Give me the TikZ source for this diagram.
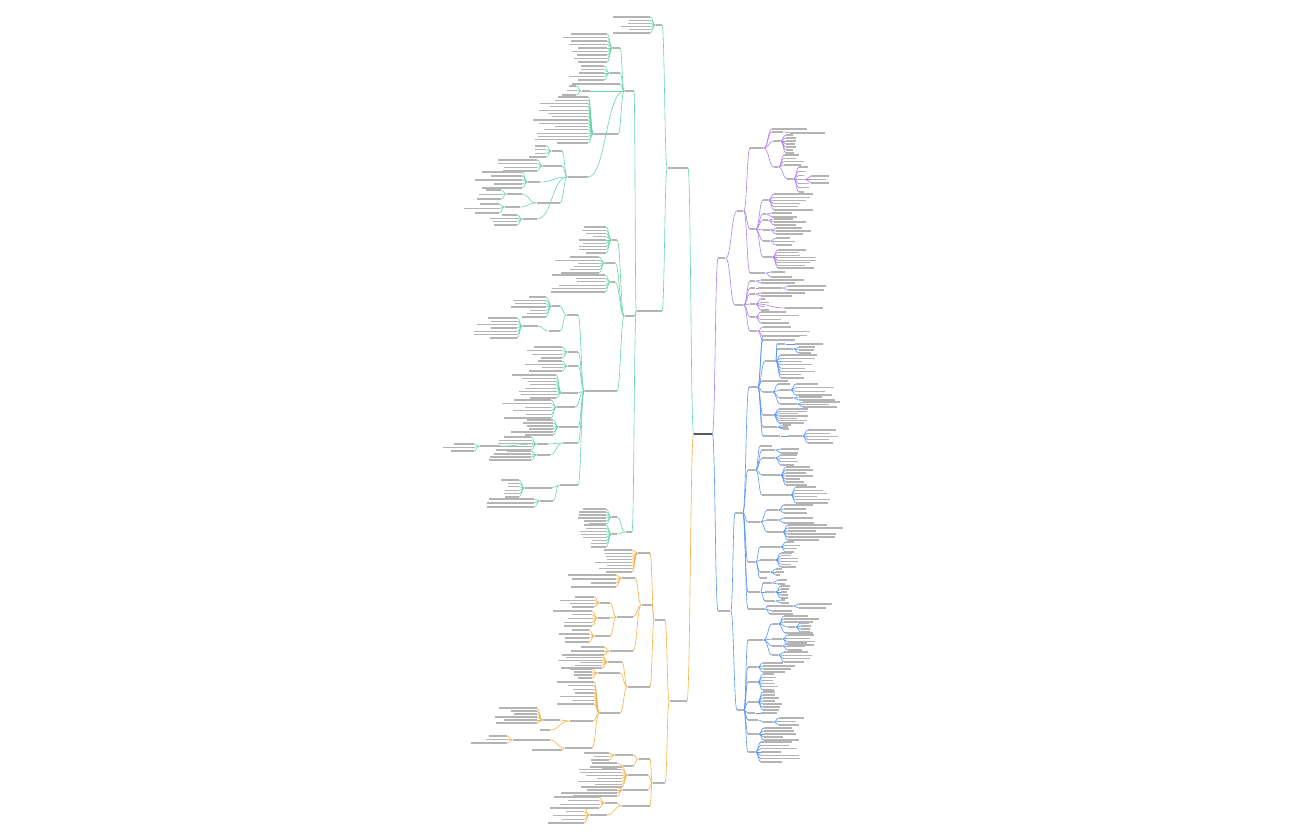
\documentclass[tikz,border=0pt]{standalone}
\usetikzlibrary{calc}
\definecolor{gr}{HTML}{6AD6A8}
\definecolor{og}{HTML}{F6B048}
\definecolor{pu}{HTML}{AD83F2}
\definecolor{bl}{HTML}{5A96F5}
\definecolor{tx}{HTML}{B4B4B4}
\tikzset{
  txt/.style={fill=tx, inner sep=0pt, minimum height=0.6pt},
  hub/.style={fill=black!65, inner sep=0pt, minimum height=1.2pt, minimum width=9pt},
  lnk/.style={line width=0.3pt, to path={let \p1=(\tikztostart), \p2=(\tikztotarget) in
      .. controls ({(\x1+\x2)/2},\y1) and ({(\x1+\x2)/2},\y2) .. (\tikztotarget)}}
}
% branch nodes, left and right of the root
\newcommand\nodeL[6]{\node[txt,anchor=east,minimum width=#5*0.5pt] (#1) at (#3,#4) {};
  \draw[lnk,#6] (#2.west) to (#1.east);}
\newcommand\nodeR[6]{\node[txt,anchor=west,minimum width=#5*0.5pt] (#1) at (#3,#4) {};
  \draw[lnk,#6] (#2.east) to (#1.west);}
% leaf columns
\newcommand\leafL[6]{\path (#1.west) ++(-5,0) coordinate (#1-c);
  \foreach \k in {1,...,#5}{
    \pgfmathsetmacro\yy{#3+(#4-#3)*(\k-1)/max(#5-1,1)}
    \pgfmathsetmacro\ww{#6*(0.45+0.55*rnd)}
    \node[txt,anchor=east,minimum width=\ww*0.5pt] (#1-\k) at (#1-c |- 0,\yy) {};
    \draw[lnk,#2] (#1.west) to (#1-\k.east);}}
\newcommand\leafR[6]{\path (#1.east) ++(5,0) coordinate (#1-c);
  \foreach \k in {1,...,#5}{
    \pgfmathsetmacro\yy{#3+(#4-#3)*(\k-1)/max(#5-1,1)}
    \pgfmathsetmacro\ww{#6*(0.45+0.55*rnd)}
    \node[txt,anchor=west,minimum width=\ww*0.5pt] (#1-\k) at (#1-c |- 0,\yy) {};
    \draw[lnk,#2] (#1.east) to (#1-\k.west);}}
\begin{document}
\begin{tikzpicture}[x=0.5pt,y=-0.5pt]
\pgfmathsetseed{7}
\fill[white] (0,0) rectangle (1296,840);
\useasboundingbox (0,0) rectangle (1296,840);
\node[hub] (root) at (703,434) {};

% green
\nodeL{A}{root}{688}{168}{20}{gr}
\nodeL{A1}{A}{662}{25}{6}{gr}
\leafL{A1}{gr}{17}{33}{6}{40}
\nodeL{B}{A}{662}{311}{25}{gr}
\nodeL{A2}{B}{634}{91}{9}{gr}
\nodeL{a1}{A2}{620}{48}{7}{gr} \leafL{a1}{gr}{34}{62}{9}{45}
\nodeL{a2}{A2}{620}{73}{10}{gr} \leafL{a2}{gr}{66}{80}{5}{45}
\nodeL{a3}{A2}{620}{84}{48}{gr}
\nodeL{a4}{A2}{590}{91}{8}{gr} \leafL{a4}{gr}{86}{95}{3}{15}
\nodeL{a5}{A2}{618}{134}{24}{gr} \leafL{a5}{gr}{97}{143}{15}{55}
\nodeL{a6}{A2}{588}{177}{20}{gr}
\nodeL{a61}{a6}{562}{151}{10}{gr} \leafL{a61}{gr}{146}{157}{4}{18}
\nodeL{a62}{a6}{562}{166}{19}{gr} \leafL{a62}{gr}{160}{171}{4}{40}
\nodeL{a63}{a6}{540}{182}{12}{gr} \leafL{a63}{gr}{172}{188}{5}{58}
\nodeL{a64}{a6}{560}{203}{23}{gr}
\nodeL{a641}{a64}{522}{194}{15}{gr} \leafL{a641}{gr}{190}{199}{3}{25}
\nodeL{a642}{a64}{520}{207}{15}{gr} \leafL{a642}{gr}{204}{213}{3}{35}
\nodeL{a65}{a6}{537}{219}{14}{gr} \leafL{a65}{gr}{215}{225}{4}{28}
\nodeL{Bm}{B}{634}{316}{9}{gr}
\nodeL{b1}{Bm}{617}{240}{5}{gr} \leafL{b1}{gr}{227}{253}{9}{28}
\nodeL{b2}{Bm}{615}{263}{10}{gr} \leafL{b2}{gr}{257}{273}{6}{45}
\nodeL{b3}{Bm}{615}{282}{4}{gr} \leafL{b3}{gr}{275}{292}{6}{60}
\nodeL{b4}{Bm}{617}{391}{32}{gr}
\nodeL{c1}{b4}{578}{315}{11}{gr}
\nodeL{c11}{c1}{560}{306}{8}{gr} \leafL{c11}{gr}{297}{317}{7}{35}
\nodeL{c12}{c1}{560}{331}{11}{gr}
\nodeL{c121}{c12}{538}{326}{15}{gr} \leafL{c121}{gr}{318}{338}{7}{50}
\nodeL{c2}{b4}{578}{352}{10}{gr} \leafL{c2}{gr}{347}{358}{4}{40}
\nodeL{c3}{b4}{578}{366}{10}{gr} \leafL{c3}{gr}{361}{371}{4}{40}
\nodeL{c4}{b4}{578}{393}{16}{gr} \leafL{c4}{gr}{375}{398}{8}{55}
\nodeL{c5}{b4}{575}{407}{18}{gr} \leafL{c5}{gr}{400}{418}{6}{50}
\nodeL{c6}{b4}{578}{427}{19}{gr} \leafL{c6}{gr}{420}{435}{6}{45}
\nodeL{c7}{b4}{578}{443}{15}{gr}
\nodeL{c71}{c7}{548}{444}{11}{gr} \leafL{c71}{gr}{437}{450}{5}{45}
\nodeL{c711}{c71}{500}{446}{20}{gr} \leafL{c711}{gr}{444}{451}{3}{40}
\nodeL{c72}{c7}{550}{455}{13}{gr} \leafL{c72}{gr}{451}{460}{4}{45}
\nodeL{c8}{b4}{578}{485}{18}{gr}
\nodeL{c81}{c8}{552}{488}{27}{gr} \leafL{c81}{gr}{480}{497}{6}{22}
\nodeL{c82}{c8}{553}{501}{13}{gr} \leafL{c82}{gr}{499}{507}{3}{50}
\nodeL{A3}{B}{632}{532}{6}{gr}
\nodeL{d1}{A3}{617}{517}{5}{gr} \leafL{d1}{gr}{509}{524}{6}{35}
\nodeL{d2}{A3}{617}{534}{5}{gr} \leafL{d2}{gr}{525}{547}{8}{30}

% orange
\nodeL{O}{root}{687}{701}{17}{og}
\nodeL{O1}{O}{665}{620}{10}{og}
\nodeL{O1a}{O1}{650}{553}{12}{og} \leafL{O1a}{og}{550}{572}{8}{40}
\nodeL{O1b}{O1}{652}{605}{10}{og}
\nodeL{e1}{O1b}{635}{578}{13}{og} \leafL{e1}{og}{575}{587}{4}{55}
\nodeL{e2}{O1b}{633}{617}{16}{og}
\nodeL{e21}{e2}{610}{603}{10}{og} \leafL{e21}{og}{597}{607}{4}{35}
\nodeL{e22}{e2}{610}{618}{12}{og} \leafL{e22}{og}{611}{626}{5}{40}
\nodeL{e23}{e2}{610}{636}{15}{og} \leafL{e23}{og}{630}{642}{4}{35}
\nodeL{e3}{O1b}{633}{651}{23}{og} \leafL{e3}{og}{647}{655}{3}{40}
\nodeL{O1c}{O1}{650}{687}{22}{og}
\nodeL{f1}{O1c}{622}{662}{14}{og} \leafL{f1}{og}{655}{668}{6}{45}
\nodeL{f2}{O1c}{620}{673}{22}{og} \leafL{f2}{og}{669}{678}{4}{25}
\nodeL{f3}{O1c}{620}{713}{20}{og} \leafL{f3}{og}{682}{704}{7}{40}
\nodeL{f32}{f3}{593}{721}{23}{og}
\nodeL{f321}{f32}{560}{720}{17}{og} \leafL{f321}{og}{708}{723}{6}{42}
\nodeL{f322}{f32}{550}{730}{10}{og}
\nodeL{f33}{f3}{592}{748}{27}{og}
\nodeL{f331}{f33}{550}{740}{37}{og} \leafL{f331}{og}{736}{743}{3}{40}
\nodeL{f332}{f33}{562}{750}{30}{og}
\nodeL{O2}{O}{665}{783}{12}{og}
\nodeL{g1}{O2}{650}{759}{11}{og}
\nodeL{g11}{g1}{633}{755}{18}{og} \leafL{g11}{og}{753}{760}{3}{25}
\nodeL{g12}{g1}{633}{766}{10}{og} \leafL{g12}{og}{763}{768}{2}{25}
\nodeL{g2}{O2}{648}{775}{20}{og} \leafL{g2}{og}{767}{787}{8}{45}
\nodeL{g3}{O2}{648}{790}{25}{og} \leafL{g3}{og}{787}{796}{4}{65}
\nodeL{g4}{O2}{650}{806}{28}{og}
\nodeL{g41}{g4}{617}{803}{12}{og} \leafL{g41}{og}{797}{808}{4}{50}
\nodeL{g42}{g4}{607}{815}{17}{og} \leafL{g42}{og}{808}{823}{5}{38}

% purple
\nodeR{P}{root}{718}{258}{7}{pu}
\nodeR{P1}{P}{737}{211}{6}{pu}
\nodeR{P1a}{P1}{750}{148}{13}{pu}
\nodeR{h1}{P1a}{772}{129}{35}{pu}
\nodeR{h2}{P1a}{772}{132}{11}{pu} \nodeR{h21}{h2}{790}{133}{35}{pu}
\nodeR{h3}{P1a}{774}{141}{6}{pu} \leafR{h3}{pu}{135}{153}{7}{12}
\nodeR{h4}{P1a}{774}{167}{4}{pu} \leafR{h4}{pu}{155}{165}{4}{24}
\nodeR{h41}{h4}{787}{179}{6}{pu} \leafR{h41}{pu}{167}{192}{7}{10}
\nodeR{h411}{h41}{798}{179.5}{7}{pu} \leafR{h411}{pu}{176}{183}{3}{22}
\nodeR{P1c}{P1}{750}{229}{5}{pu}
\nodeR{i1}{P1c}{763}{200}{5}{pu} \leafR{i1}{pu}{194}{210}{6}{40}
\nodeR{i2}{P1c}{763}{214}{3}{pu} \leafR{i2}{pu}{213}{217}{2}{30}
\nodeR{i3}{P1c}{763}{220}{5}{pu} \leafR{i3}{pu}{219}{225}{3}{36}
\nodeR{i4}{P1c}{763}{230}{7}{pu} \leafR{i4}{pu}{228}{234}{3}{40}
\nodeR{i5}{P1c}{763}{241}{7}{pu} \leafR{i5}{pu}{238}{245}{3}{22}
\nodeR{i6}{P1c}{763}{257}{9}{pu} \leafR{i6}{pu}{250}{268}{8}{42}
\nodeR{P1d}{P1}{750}{273}{15}{pu} \leafR{P1d}{pu}{272}{277}{2}{22}
\nodeR{P2}{P}{735}{305}{8}{pu}
\nodeR{j1}{P2}{750}{281}{5}{pu} \leafR{j1}{pu}{280}{283}{2}{60}
\nodeR{j2}{P2}{750}{288}{5}{pu} \nodeR{j21}{j2}{758}{288}{24}{pu} \leafR{j21}{pu}{286}{290}{2}{40}
\nodeR{j3}{P2}{750}{294}{5}{pu} \leafR{j3}{pu}{293}{296}{2}{45}
\nodeR{j4}{P2}{750}{304}{5}{pu} \leafR{j4}{pu}{299}{310}{4}{8}
\nodeR{j41}{j4}{785}{308}{38}{pu}
\nodeR{j5}{P2}{750}{317}{5}{pu} \leafR{j5}{pu}{312}{323}{4}{38}
\nodeR{j6}{P2}{750}{331}{7}{pu} \leafR{j6}{pu}{327}{340}{4}{50}

% blue
\nodeR{Q}{root}{718}{611}{12}{bl}
\nodeR{Q1}{Q}{735}{513}{7}{bl}
\nodeR{R1}{Q1}{749}{387}{8}{bl}
\nodeR{k1}{R1}{763}{336}{37}{bl}
\nodeR{k2}{R1}{763}{340}{32}{bl}
\nodeR{k3}{R1}{765}{361}{10}{bl}
\nodeR{k31}{k3}{777}{344}{8}{bl} \nodeR{k311}{k31}{795}{344}{28}{bl}
\nodeR{k32}{k3}{777}{349}{16}{bl} \leafR{k32}{bl}{347}{353}{3}{25}
\leafR{k3}{bl}{355}{378}{8}{38}
\nodeR{k4}{R1}{762}{381}{26}{bl}
\nodeR{k5}{R1}{763}{392}{9}{bl}
\nodeR{k51}{k5}{778}{384}{12}{bl}
\nodeR{k52}{k5}{780}{390}{10}{bl} \leafR{k52}{bl}{384}{395}{4}{40}
\nodeR{k53}{k5}{780}{398}{13}{bl} \leafR{k53}{bl}{397}{400}{2}{36}
\nodeR{k54}{k5}{780}{404}{17}{bl} \leafR{k54}{bl}{402}{407}{3}{38}
\nodeR{k6}{R1}{763}{415}{10}{bl} \leafR{k6}{bl}{409}{423}{7}{33}
\nodeR{k7}{R1}{763}{427}{14}{bl} \leafR{k7}{bl}{425}{429}{3}{10}
\nodeR{k8}{R1}{763}{436}{17}{bl} \nodeR{k81}{k8}{788}{436}{14}{bl} \leafR{k81}{bl}{430}{443}{5}{30}
\nodeR{R2}{Q1}{748}{470}{7}{bl}
\nodeR{l1}{R2}{760}{446}{12}{bl}
\nodeR{l2}{R2}{762}{450}{13}{bl} \leafR{l2}{bl}{449}{453}{2}{20}
\nodeR{l3}{R2}{762}{458}{13}{bl} \leafR{l3}{bl}{455}{465}{4}{20}
\nodeR{l4}{R2}{762}{475}{18}{bl} \leafR{l4}{bl}{467}{485}{7}{28}
\nodeR{l5}{R2}{762}{495}{28}{bl} \leafR{l5}{bl}{487}{503}{6}{38}
\nodeR{R3}{Q1}{748}{522}{12}{bl}
\nodeR{m1}{R3}{767}{510}{11}{bl} \leafR{m1}{bl}{505}{513}{3}{30}
\nodeR{m2}{R3}{767}{520}{11}{bl} \leafR{m2}{bl}{518}{523}{2}{35}
\nodeR{m3}{R3}{767}{532}{15}{bl} \leafR{m3}{bl}{525}{540}{6}{58}
\nodeR{R4}{Q1}{748}{562}{7}{bl}
\nodeR{n1}{R4}{760}{547}{20}{bl} \leafR{n1}{bl}{542}{552}{4}{16}
\nodeR{n2}{R4}{760}{560}{15}{bl} \leafR{n2}{bl}{553}{567}{6}{18}
\nodeR{n3}{R4}{760}{572}{10}{bl} \leafR{n3}{bl}{569}{575}{3}{8}
\nodeR{n4}{R4}{760}{578}{7}{bl}
\nodeR{R5}{Q1}{748}{592}{12}{bl}
\nodeR{o1}{R5}{763}{583}{9}{bl} \leafR{o1}{bl}{580}{584}{2}{10}
\nodeR{o2}{R5}{765}{592}{10}{bl} \leafR{o2}{bl}{586}{598}{5}{10}
\nodeR{o3}{R5}{765}{601}{10}{bl} \leafR{o3}{bl}{600}{603}{2}{8}
\nodeR{R6}{Q1}{748}{609}{17}{bl}
\nodeR{p1}{R6}{767}{606}{26}{bl} \leafR{p1}{bl}{604}{608}{2}{33}
\nodeR{p2}{R6}{772}{611}{20}{bl}
\nodeR{p3}{R6}{770}{614}{23}{bl}
\nodeR{Q2}{Q}{737}{710}{6}{bl}
\nodeR{T1}{Q2}{748}{640}{15}{bl}
\nodeR{t1}{T1}{772}{624}{6}{bl} \leafR{t1}{bl}{616}{622}{3}{40}
\nodeR{t11}{t1}{788}{627}{7}{bl} \leafR{t11}{bl}{623}{632}{4}{17}
\nodeR{t12}{t1}{785}{633}{28}{bl}
\nodeR{t2}{T1}{772}{639}{10}{bl} \leafR{t2}{bl}{635}{645}{4}{40}
\nodeR{t3}{T1}{772}{646}{10}{bl} \leafR{t3}{bl}{643}{650}{3}{25}
\nodeR{t4}{T1}{772}{655}{6}{bl} \leafR{t4}{bl}{652}{662}{4}{37}
\nodeR{T2}{Q2}{748}{667}{9}{bl} \leafR{T2}{bl}{663}{672}{4}{40}
\nodeR{T3}{Q2}{748}{682}{9}{bl} \leafR{T3}{bl}{674}{690}{6}{19}
\nodeR{T4}{Q2}{748}{702}{9}{bl} \leafR{T4}{bl}{692}{710}{7}{22}
\nodeR{T5}{Q2}{748}{713}{7}{bl} \leafR{T5}{bl}{713}{713}{1}{24}
\nodeR{T6}{Q2}{748}{720}{10}{bl}
\nodeR{t61}{T6}{763}{722}{10}{bl} \leafR{t61}{bl}{718}{725}{3}{32}
\nodeR{T7}{Q2}{748}{734}{10}{bl} \leafR{T7}{bl}{728}{740}{5}{37}
\nodeR{T8}{Q2}{748}{752}{7}{bl} \leafR{T8}{bl}{742}{762}{7}{40}
\end{tikzpicture}
\end{document}
